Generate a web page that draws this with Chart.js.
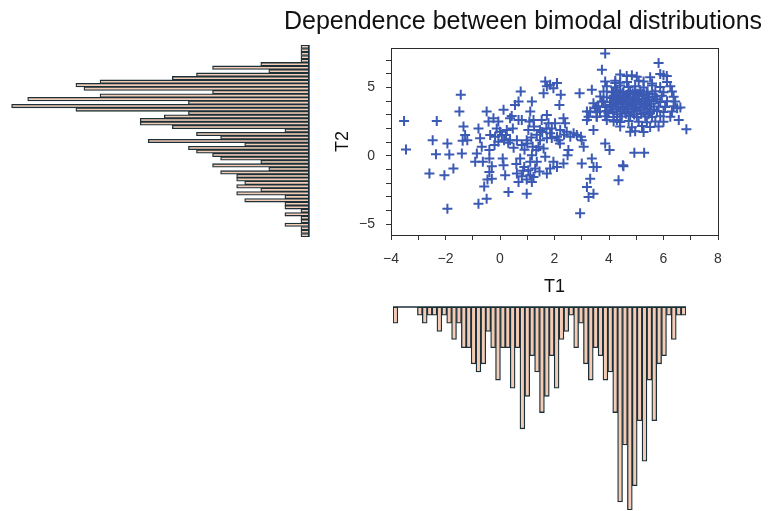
<!DOCTYPE html>
<html>
<head>
<meta charset="utf-8">
<script src="https://cdn.jsdelivr.net/npm/chart.js@4"></script>
<style>
  html, body { margin: 0; padding: 0; background: #fff; }
  #wrap { position: relative; width: 770px; height: 511px; overflow: hidden; }
  #wrap canvas { position: absolute; }
</style>
</head>
<body>
<div id="wrap">
  <canvas id="t2Hist" width="320" height="260" style="left:0;top:0"></canvas>
  <canvas id="scatter" width="494" height="300" style="left:276px;top:0"></canvas>
  <canvas id="t1Hist" width="320" height="221" style="left:380px;top:290px"></canvas>
</div>
<script>
// T2 histogram (drawn sideways, top bin = highest T2)
const t2Counts = [1, 1, 1, 1, 1, 6, 12, 5, 14, 17, 26, 29, 28, 12, 26, 35, 15, 37, 29, 15,
  18, 21, 21, 17, 3, 14, 11, 20, 8, 15, 14, 12, 11, 6, 12, 5, 11, 9, 9, 8,
  9, 6, 9, 3, 8, 3, 3, 1, 3, 1, 1, 3, 1, 1, 1];

// T1 histogram (hanging under the scatter)
const t1Counts = [2, 0, 0, 0, 0, 1, 2, 1, 1, 3, 1, 2, 4, 2, 5, 5, 7, 8, 7, 3,
  5, 9, 5, 5, 10, 5, 15, 11, 6, 8, 13, 11, 6, 10, 4, 3, 1, 5, 2, 7,
  9, 5, 6, 9, 8, 13, 24, 17, 25, 22, 14, 19, 9, 14, 7, 6, 1, 4, 1, 1];

const t2Bins = t2Counts.map((_, i) => 'b' + (i + 1));
const t1Bins = t1Counts.map((_, i) => 'b' + (i + 1));

// scatter points [T1, T2]
const points = [
  [-3.52, 2.56], [-3.45, 0.47], [-2.32, 2.56], [-2.47, 1.15], [-2.35, 0.12], [-2.59, -1.30],
  [-2.04, -1.43], [-1.93, 0.91], [-1.86, 0.10], [-1.93, -3.88], [-1.71, -0.93], [-1.44, 4.47],
  [-1.49, 3.24], [-1.34, 2.14], [-1.28, 1.52], [-1.37, 1.11], [-1.40, 0.17], [-1.20, 1.15],
  [-0.79, 2.01], [-0.85, 0.17], [-0.91, -0.44], [-0.79, -3.51], [-0.73, 1.28], [-0.67, 0.66],
  [-0.63, -0.44], [-0.58, -2.24], [-0.49, -3.14], [-0.49, 3.24], [-0.42, 2.51], [-0.36, 1.52],
  [-0.39, 0.42], [-0.39, -0.20], [-0.39, -1.18], [-0.30, -1.67], [-0.46, -1.74], [-0.30, -0.76],
  [-0.24, 2.75], [-0.18, 1.40], [-0.12, 2.01], [-0.06, 2.51], [0.00, 1.77], [-0.06, 1.03],
  [0.13, 3.37], [0.07, 1.52], [0.15, 1.15], [0.10, -0.20], [0.13, -0.69], [0.19, -1.43],
  [0.31, -2.65], [0.37, 2.75], [0.43, 2.92], [0.47, 2.01], [0.37, 1.15], [0.25, 1.89],
  [0.22, 1.52], [0.62, 1.15], [0.55, 3.73], [0.68, 3.98], [0.76, 4.72], [0.68, 2.63],
  [0.80, 2.63], [0.80, 0.79], [0.74, -0.20], [0.62, -1.30], [0.80, -1.50], [0.89, -0.81],
  [0.68, -1.92], [0.98, -2.78], [0.98, 1.15], [1.04, 1.89], [1.08, 2.51], [1.11, 3.24],
  [1.17, 3.98], [1.23, 2.63], [1.25, 2.14], [1.20, 0.66], [1.17, 0.05], [1.11, -0.44],
  [1.04, -1.06], [1.11, -1.43], [1.23, -1.55], [1.17, -1.92], [0.98, -1.74], [1.29, -0.93],
  [1.35, -0.44], [1.33, 0.42], [1.41, 0.66], [1.47, 1.15], [1.47, 1.89], [1.53, 2.63],
  [1.60, 4.59], [1.66, 5.45], [1.72, 5.09], [1.84, 5.21], [1.96, 4.96], [2.09, 5.33],
  [1.72, 3.00], [1.78, 2.38], [1.84, 1.65], [1.72, 1.28], [1.60, 0.54], [1.66, -0.07],
  [1.72, -1.30], [1.84, -0.93], [1.96, -0.44], [2.09, -0.81], [1.90, 2.01], [2.02, 2.38],
  [2.09, 1.40], [2.15, 1.15], [2.21, 1.89], [2.23, 4.47], [2.18, 3.73], [2.33, 2.75],
  [2.39, 2.38], [2.45, 1.77], [2.48, 0.05], [2.51, 0.42], [2.33, -0.57], [2.58, 1.40],
  [2.70, 1.65], [2.82, 1.52], [2.92, 4.59], [2.97, 1.40], [3.00, 1.15], [3.07, 0.66],
  [3.00, -0.57], [2.94, -4.20], [3.19, -2.29], [3.25, -3.02], [3.31, -1.67], [3.37, -0.20],
  [3.43, -0.81], [3.43, -2.78], [3.55, -0.81], [3.19, 3.24], [3.19, 2.63], [3.25, 2.87],
  [3.37, 4.84], [3.43, 3.86], [3.49, 3.49], [3.43, 1.89], [3.55, 2.87], [3.61, 3.61],
  [3.67, 3.24], [3.74, 3.98], [3.74, 6.31], [3.86, 7.49], [3.86, 0.91], [4.02, 0.42],
  [3.92, 2.63], [3.98, 3.12], [4.04, 3.73], [4.10, 4.23], [4.16, 4.72], [4.23, 5.33],
  [4.29, 2.63], [4.35, -1.79], [4.51, -0.69], [4.53, -0.76], [5.82, 6.81], [6.84, 1.94],
  [4.93, 0.22], [5.29, 0.22], [6.50, 3.49], [6.56, 2.63],
  [1.35, 1.55], [1.55, 1.75], [1.90, 1.30], [2.20, 0.90], [0.90, 0.45], [1.00, 0.90],
  [0.50, 0.60], [0.30, 0.95], [-0.20, 0.80], [1.70, 2.00], [2.35, 1.55], [1.15, 1.35],
  [0.60, -0.60], [1.45, -1.15], [0.85, -1.10],
  // dense right-hand cluster
  [4.41, 5.95], [4.65, 5.85], [4.84, 5.90], [5.02, 5.80], [5.51, 5.75], [5.88, 6.00], [6.00, 5.90], [6.12, 5.85],
  [3.86, 5.45], [4.23, 5.50], [4.41, 5.35], [4.66, 5.40], [5.09, 5.50], [5.27, 5.45], [5.58, 5.30], [6.13, 5.40],
  [3.92, 5.10], [4.23, 5.00], [4.41, 5.15], [4.72, 5.05], [4.96, 5.10], [5.27, 5.00], [5.58, 5.15], [5.88, 5.05], [6.25, 5.10],
  [3.80, 4.72], [4.11, 4.65], [4.29, 4.78], [4.53, 4.70], [4.78, 4.75], [4.96, 4.68], [5.15, 4.80], [5.39, 4.70], [5.70, 4.74], [6.00, 4.66], [6.31, 4.72],
  [3.68, 4.35], [3.92, 4.30], [4.17, 4.40], [4.41, 4.32], [4.60, 4.38], [4.78, 4.30], [5.02, 4.36], [5.21, 4.42], [5.45, 4.30], [5.70, 4.35], [5.94, 4.40], [6.37, 4.33],
  [3.80, 3.98], [4.04, 3.92], [4.29, 4.02], [4.47, 3.95], [4.66, 4.00], [4.84, 3.94], [5.02, 4.04], [5.21, 3.96], [5.39, 3.98], [5.64, 4.02], [5.88, 3.94], [6.13, 4.00], [6.43, 3.98],
  [3.55, 3.61], [3.86, 3.58], [4.11, 3.65], [4.35, 3.60], [4.53, 3.55], [4.72, 3.64], [4.90, 3.60], [5.15, 3.56], [5.33, 3.66], [5.51, 3.60], [5.82, 3.62], [6.06, 3.57], [6.37, 3.63], [6.62, 3.55],
  [3.31, 3.24], [3.55, 3.20], [3.92, 3.28], [4.17, 3.22], [4.41, 3.26], [4.60, 3.18], [4.84, 3.25], [5.02, 3.30], [5.27, 3.20], [5.51, 3.24], [5.76, 3.28], [6.00, 3.22], [6.31, 3.24],
  [3.55, 2.87], [3.86, 2.90], [4.17, 2.84], [4.47, 2.88], [4.78, 2.92], [5.02, 2.85], [5.33, 2.88], [5.58, 2.84], [5.88, 2.90], [6.25, 2.86],
  [4.17, 2.51], [4.41, 2.48], [4.72, 2.55], [5.09, 2.50], [5.39, 2.46], [5.70, 2.52], [6.00, 2.50],
  [4.41, 2.14], [4.84, 2.10], [5.21, 2.18], [5.51, 2.12], [5.82, 2.15],
  [4.78, 1.77], [4.96, 1.80], [5.27, 1.75],
  [4.35, 4.55], [4.50, 4.60], [4.69, 4.52], [4.87, 4.58], [5.05, 4.55], [5.24, 4.50], [5.42, 4.57], [5.60, 4.53],
  [4.22, 4.15], [4.38, 4.18], [4.56, 4.12], [4.75, 4.16], [4.93, 4.20], [5.11, 4.14], [5.30, 4.17], [5.48, 4.12], [5.76, 4.15],
  [4.26, 3.80], [4.44, 3.84], [4.62, 3.78], [4.81, 3.82], [4.99, 3.76], [5.18, 3.83], [5.36, 3.79], [5.55, 3.81],
  [4.28, 3.42], [4.50, 3.45], [4.70, 3.40], [4.93, 3.44], [5.12, 3.38], [5.40, 3.43], [5.65, 3.40],
  [4.30, 3.05], [4.62, 3.08], [4.92, 3.02], [5.18, 3.06], [5.45, 3.04]
];

const t1Ticks = [-4, -2, 0, 2, 4, 6, 8];
const t2Ticks = [-5, 0, 5];

Chart.defaults.font.family = 'Arial, Helvetica, sans-serif';
Chart.defaults.color = '#333';

const barFill = '#f4cbb5';
const barEdge = '#1b3038';

const minus = v => String(v).replace('-', '\u2212');

// baseline of a histogram, drawn at value 0 of the count scale
const baseline = {
  id: 'baseline',
  afterDatasetsDraw(chart) {
    const { ctx, chartArea, scales } = chart;
    ctx.save();
    ctx.strokeStyle = barEdge;
    ctx.lineWidth = 1.4;
    ctx.beginPath();
    if (chart.options.indexAxis === 'y') {
      const x = scales.x.getPixelForValue(0);
      ctx.moveTo(x, chartArea.top);
      ctx.lineTo(x, chartArea.bottom);
    } else {
      const y = scales.y.getPixelForValue(0);
      ctx.moveTo(chartArea.left, y);
      ctx.lineTo(chartArea.right, y);
    }
    ctx.stroke();
    ctx.restore();
  }
};

// box round the scatter area
const frame = {
  id: 'frame',
  afterDraw(chart) {
    const { ctx, chartArea: a } = chart;
    ctx.save();
    ctx.strokeStyle = '#2a2a2a';
    ctx.lineWidth = 1;
    ctx.strokeRect(Math.round(a.left) + 0.5, Math.round(a.top) + 0.5,
      Math.round(a.right - a.left), Math.round(a.bottom - a.top));
    ctx.restore();
  }
};

const histDataset = data => ({
  data,
  backgroundColor: barFill,
  borderColor: barEdge,
  borderWidth: 1.3,
  borderSkipped: false,
  barPercentage: 1,
  categoryPercentage: 1
});

new Chart(document.getElementById('t2Hist'), {
  type: 'bar',
  data: { labels: t2Bins, datasets: [histDataset(t2Counts)] },
  options: {
    indexAxis: 'y',
    responsive: false,
    animation: false,
    layout: { padding: { left: 10, right: 11, top: 45, bottom: 23 } },
    plugins: { legend: { display: false }, tooltip: { enabled: false } },
    scales: {
      x: { display: false, reverse: true, min: 0, max: 37.2 },
      y: { display: false }
    }
  },
  plugins: [baseline]
});

new Chart(document.getElementById('t1Hist'), {
  type: 'bar',
  data: { labels: t1Bins, datasets: [histDataset(t1Counts)] },
  options: {
    responsive: false,
    animation: false,
    layout: { padding: { left: 13, right: 14, top: 17, bottom: 1 } },
    plugins: { legend: { display: false }, tooltip: { enabled: false } },
    scales: {
      x: { display: false },
      y: { display: false, reverse: true, min: 0, max: 25 }
    }
  },
  plugins: [baseline]
});

const axisStyle = {
  grid: { drawOnChartArea: false, drawTicks: true, tickLength: 5, color: '#333', tickWidth: 1 },
  border: { display: true, color: '#333', width: 1 }
};

new Chart(document.getElementById('scatter'), {
  type: 'scatter',
  data: {
    datasets: [{
      data: points.map(p => ({ x: p[0], y: p[1] })),
      pointStyle: 'cross',
      pointRadius: 5,
      pointBorderWidth: 2,
      borderColor: '#3b5ab4',
      backgroundColor: '#3b5ab4'
    }]
  },
  options: {
    responsive: false,
    animation: false,
    layout: { padding: { left: 0, right: 0, top: 0, bottom: 1 } },
    plugins: {
      legend: { display: false },
      tooltip: { enabled: false },
      title: {
        display: true,
        text: 'Dependence between bimodal distributions',
        color: '#111',
        font: { size: 25, weight: 'normal' },
        padding: { top: 7, bottom: 11 }
      }
    },
    scales: {
      x: {
        ...axisStyle,
        min: -4, max: 8,
        afterFit: s => { s.height = 64; },
        ticks: {
          stepSize: 1, autoSkip: false, maxRotation: 0, padding: 11,
          font: { size: 14 }, color: '#333',
          callback: v => t1Ticks.includes(v) ? minus(v) : ''
        },
        title: { display: true, text: 'T1', color: '#111', font: { size: 18 }, padding: { top: 0, bottom: 1 } }
      },
      y: {
        ...axisStyle,
        min: -5.8, max: 7.9,
        afterFit: s => { s.width = 115; },
        ticks: {
          stepSize: 1, includeBounds: false, autoSkip: false, padding: 11,
          font: { size: 14 }, color: '#333',
          callback: v => t2Ticks.includes(v) ? minus(v) : ''
        },
        title: { display: true, text: 'T2', color: '#111', font: { size: 18 }, padding: { top: 56, bottom: 0 } }
      },
      // empty right-hand margin so the title keeps the full canvas width
      yRight: {
        position: 'right',
        display: true,
        afterFit: s => { s.width = 52; },
        grid: { display: false },
        border: { display: false },
        ticks: { display: false }
      }
    }
  },
  plugins: [frame]
});
</script>
</body>
</html>
